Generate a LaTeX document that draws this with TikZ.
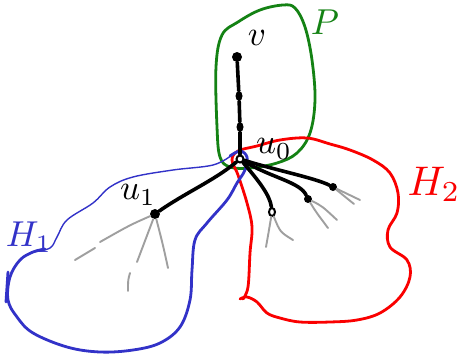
\documentclass[tikz,border=0pt]{standalone}
\usetikzlibrary{shapes.geometric}
\definecolor{pgreen}{RGB}{20,130,20}
\definecolor{hblue}{RGB}{50,50,200}
\definecolor{hred}{RGB}{250,0,0}
\begin{document}
\begin{tikzpicture}[x=1pt,y=-1pt,
  dot/.style={circle,fill=black,inner sep=0pt,minimum size=#1},
  vdot/.style={ellipse,fill=black,inner sep=0pt,minimum width=7pt,minimum height=10pt},
  odot/.style={ellipse,draw=black,line width=2pt,fill=white,inner sep=0pt,minimum width=6pt,minimum height=8pt},
  edge/.style={line width=3.6pt,line cap=round},
  sub/.style={gray!75,line width=1.9pt,line cap=round},
  lbl/.style={inner sep=0pt,scale=3.5},
  biglbl/.style={inner sep=0pt,scale=3.6},
  loopline/.style={line width=2.8pt,line cap=round,line join=round}]
\useasboundingbox (0,0) rectangle (461,354);
\fill[white] (0,0) rectangle (461,354);

% loops
\draw[loopline,pgreen] plot[smooth cycle,tension=0.6] coordinates {(222,35)(238,22)(260,10)(283,5)(295,8)(305,27)(312,60)(315,100)(310,133)(297,153)(277,163)(250,168)(230,167)(220,157)(217,127)(216,67)};
\draw[loopline,hred] plot[smooth,tension=0.6] coordinates {(243,299)(248,287)(250,253)(252,227)(247,203)(238,175)(232,160)(238,151)(257,146)(280,140)(307,138)(330,144)(350,150)(373,160)(390,173)(398,193)(397,213)(388,230)(390,247)(407,260)(410,277)(400,297)(380,313)(357,320)(330,322)(300,322)(280,318)(267,313)(257,302)(247,297)(240,299)};
\draw[hblue,line width=1.4pt,line cap=round] plot[smooth,tension=0.6] coordinates {(33,252)(50,248)(57,237)(67,220)(93,203)(110,187)(133,177)(173,170)(213,165)(232,155)};
\draw[loopline,hblue] plot[smooth,tension=0.6] coordinates {(230,156)(240,151)(247,157)(245,170)(237,183)(227,200)(207,223)(195,240)(192,270)(190,300)(180,327)(160,343)(133,350)(100,352)(67,347)(33,333)(17,317)(8,300)(10,277)(20,260)(33,252)(45,249)};
\draw[loopline,hblue] (8,272) -- (6,302);

% tree nodes
\node[dot=10pt] (v) at (237,57) {};
\node[vdot] (a1) at (239,96) {};
\node[vdot] (a2) at (240,127) {};
\node[odot,minimum width=7pt,minimum height=7pt] (u0) at (240,159) {};
\node[dot=10pt] (u1) at (155,214) {};
\node[odot] (c1) at (272,212) {};
\node[dot=8pt] (c2) at (308,199) {};
\node[dot=8pt] (c3) at (333,187) {};

% edges
\draw[edge] (v) -- (a1) -- (a2) -- (u0);
\draw[edge] (u0) .. controls (215,180) and (185,193) .. (u1);
\draw[edge] (u0) .. controls (258,180) and (270,195) .. (c1);
\draw[edge] (u0) .. controls (272,178) and (300,182) .. (c2);
\draw[edge] (u0) .. controls (275,170) and (315,178) .. (c3);

% gray subtrees
\coordinate (g1) at (100,242); \coordinate (g2) at (95,248); \coordinate (g3) at (75,260);
\draw[sub] (u1) .. controls (130,225) .. (g1);
\draw[sub] (g2) -- (g3);
\coordinate (g4) at (137,262); \coordinate (g5) at (130,273); \coordinate (g6) at (128,291);
\draw[sub] (u1) .. controls (146,240) .. (g4);
\draw[sub] (g5) .. controls (128,280) .. (g6);
\coordinate (g7) at (168,268);
\draw[sub] (u1) .. controls (163,245) .. (g7);
\coordinate (g8) at (266,247); \coordinate (g9) at (293,240);
\draw[sub] (c1) .. controls (269,230) .. (g8);
\draw[sub] (c1) .. controls (280,232) .. (g9);
\coordinate (g10) at (337,220); \coordinate (g11) at (328,228);
\draw[sub] (c2) .. controls (322,206) .. (g10);
\draw[sub] (c2) .. controls (316,212) .. (g11);
\coordinate (g12) at (360,200); \coordinate (g13) at (354,204);
\draw[sub] (c3) -- (g12);
\draw[sub] (c3) -- (g13);

% labels
\node[lbl] (lv) at (257,38) {$v$};
\node[lbl] (lu0) at (274,149) {$u_0$};
\node[lbl] (lu1) at (138,195) {$u_1$};
\node[biglbl,pgreen] (lP) at (325,22) {$P$};
\node[biglbl,hblue] (lH1) at (29,237) {$H_1$};
\node[biglbl,hred,scale=1.15] (lH2) at (434,184) {$H_2$};
\end{tikzpicture}
\end{document}
